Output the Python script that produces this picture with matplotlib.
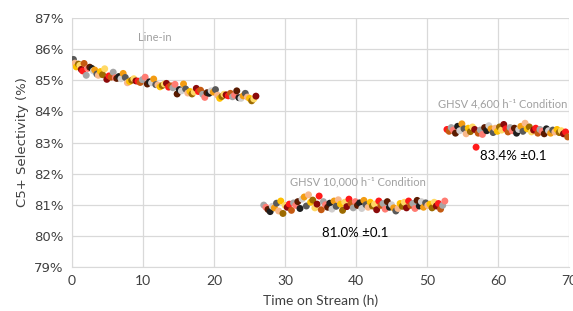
import matplotlib
matplotlib.use("Agg")
import matplotlib.pyplot as plt
from matplotlib.ticker import FuncFormatter

# --- Datos ---
t_linein = [0.0, 0.2, 0.4, 0.6, 0.9, 1.1, 1.3, 1.5, 1.7, 2.0, 2.2, 2.5, 2.8, 3.0, 3.2, 3.5,
            3.7, 4.0, 4.3, 4.6, 4.9, 5.2, 5.5, 5.8, 6.1, 6.3, 6.6, 6.9, 7.2, 7.5, 7.8, 8.1,
            8.4, 8.7, 9.0, 9.3, 9.6, 9.9, 10.3, 10.6, 10.9, 11.2, 11.5, 11.8, 12.1, 12.4,
            12.7, 13.0, 13.3, 13.6, 13.9, 14.2, 14.5, 14.8, 15.1, 15.4, 15.7, 16.0, 16.3,
            16.6, 16.9, 17.2, 17.5, 17.8, 18.1, 18.4, 18.7, 19.0, 19.3, 19.6, 19.9, 20.2,
            20.5, 20.8, 21.1, 21.4, 21.7, 22.0, 22.3, 22.6, 22.9, 23.2, 23.5, 23.8, 24.1,
            24.4, 24.7, 25.0, 25.3, 25.6, 25.9]
sel_linein = [85.62, 85.67, 85.55, 85.43, 85.52, 85.48, 85.35, 85.30, 85.54, 85.16, 85.38,
              85.42, 85.38, 85.30, 85.33, 85.20, 85.16, 85.28, 85.18, 85.37, 85.03, 85.14,
              85.10, 85.26, 85.08, 85.06, 85.12, 85.05, 85.22, 85.09, 84.92, 84.96, 85.00,
              85.05, 84.98, 84.97, 84.93, 85.02, 85.10, 84.88, 84.95, 84.92, 85.04, 84.86,
              84.85, 84.79, 84.83, 84.88, 84.90, 84.78, 84.82, 84.76, 84.87, 84.56, 84.70,
              84.66, 84.88, 84.72, 84.59, 84.64, 84.56, 84.62, 84.74, 84.64, 84.68, 84.55,
              84.45, 84.60, 84.58, 84.66, 84.62, 84.70, 84.52, 84.42, 84.48, 84.55, 84.53,
              84.50, 84.58, 84.47, 84.52, 84.66, 84.44, 84.42, 84.50, 84.58, 84.46, 84.42,
              84.34, 84.40, 84.49]

t_ghsv10000 = [27.0, 27.3, 27.6, 27.9, 28.2, 28.5, 28.8, 29.1, 29.4, 29.7, 30.0, 30.3, 30.6,
               30.9, 31.2, 31.5, 31.8, 32.1, 32.4, 32.7, 33.0, 33.3, 33.6, 33.9, 34.2, 34.5,
               34.8, 35.1, 35.4, 35.7, 36.0, 36.3, 36.6, 36.9, 37.2, 37.5, 37.8, 38.1, 38.4,
               38.7, 39.0, 39.3, 39.6, 39.9, 40.2, 40.5, 40.8, 41.1, 41.4, 41.7, 42.0, 42.3,
               42.6, 42.9, 43.2, 43.5, 43.8, 44.1, 44.4, 44.7, 45.0, 45.3, 45.6, 45.9, 46.2,
               46.5, 46.8, 47.1, 47.4, 47.7, 48.0, 48.3, 48.6, 48.9, 49.2, 49.5, 49.8, 50.1,
               50.4, 50.7, 51.0, 51.3, 51.6, 51.9, 52.2, 52.5]
sel_ghsv10000 = [80.99, 80.92, 80.85, 80.78, 80.95, 80.90, 81.05, 80.80, 81.12, 80.72, 80.98,
                 80.92, 81.02, 80.82, 81.06, 80.98, 81.10, 80.88, 81.18, 81.25, 80.96, 81.32,
                 81.08, 81.15, 80.90, 81.02, 81.28, 80.84, 81.10, 81.00, 80.92, 81.05, 80.86,
                 81.12, 80.95, 81.16, 81.02, 80.82, 81.08, 80.94, 81.18, 81.04, 80.90, 81.10,
                 80.98, 81.06, 80.88, 81.14, 81.00, 80.92, 81.08, 80.96, 81.02, 80.84, 81.12,
                 80.98, 81.04, 80.86, 81.10, 80.92, 81.00, 80.90, 80.80, 80.88, 81.04, 80.95,
                 81.08, 80.90, 81.12, 80.98, 81.04, 80.88, 81.14, 80.96, 81.10, 80.92, 81.06,
                 80.98, 81.02, 80.90, 81.08, 80.96, 81.04, 80.86, 80.98, 81.12]

t_ghsv4600 = [52.8, 53.1, 53.4, 53.7, 54.0, 54.3, 54.6, 54.9, 55.2, 55.5, 55.8, 56.1, 56.4,
              56.7, 56.9, 57.2, 57.5, 57.8, 58.1, 58.4, 58.7, 59.0, 59.3, 59.6, 59.9, 60.2,
              60.5, 60.8, 61.1, 61.4, 61.7, 62.0, 62.3, 62.6, 62.9, 63.2, 63.5, 63.8, 64.1,
              64.4, 64.7, 65.0, 65.3, 65.6, 65.9, 66.2, 66.5, 66.8, 67.1, 67.4, 67.7, 68.0,
              68.3, 68.6, 68.9, 69.2, 69.5, 69.8]
sel_ghsv4600 = [83.42, 83.36, 83.48, 83.40, 83.30, 83.52, 83.38, 83.60, 83.44, 83.28, 83.46,
                83.35, 83.50, 83.42, 82.85, 83.30, 83.40, 83.26, 83.48, 83.38, 83.54, 83.44,
                83.32, 83.46, 83.36, 83.50, 83.40, 83.58, 83.44, 83.34, 83.48, 83.38, 83.46,
                83.30, 83.42, 83.52, 83.36, 83.62, 83.44, 83.50, 83.34, 83.40, 83.46, 83.30,
                83.42, 83.36, 83.28, 83.44, 83.38, 83.30, 83.40, 83.34, 83.42, 83.32, 83.38,
                83.28, 83.34, 83.18]

# colores por punto (estilo Excel "variar colores")
PALETTE = ['#F39C12', '#FFC000', '#8B0A0A', '#A6A6A6', '#1E1E1E', '#595959', '#9C6A00',
           '#FF1A1A', '#FF7C73', '#D0CECE', '#F8B88B', '#FFD966', '#C55A11', '#5A1A00']

GRID = '#D9D9D9'
TICK_COLOR = '#404040'
FONTS = ['Lato', 'DejaVu Sans']


def point_colors(n, offset):
    return [PALETTE[(i * 5 + offset) % len(PALETTE)] for i in range(n)]


def pct(v, pos):
    return f"{v:.0f}%"


fig = plt.figure(figsize=(5.73, 3.11), dpi=100)
ax = fig.add_axes([0.1257, 0.1415, 0.8675, 0.8005])

segments = [(t_linein, sel_linein, 0), (t_ghsv10000, sel_ghsv10000, 3), (t_ghsv4600, sel_ghsv4600, 7)]
for t, s, off in segments:
    ax.scatter(t, s, s=25, c=point_colors(len(t), off), linewidths=0, zorder=3)

ax.set_xlim(0, 70)
ax.set_ylim(79, 87)
ax.set_xticks(range(0, 71, 10))
ax.set_yticks(range(79, 88))
ax.yaxis.set_major_formatter(FuncFormatter(pct))
ax.grid(True, color=GRID, linewidth=0.9, zorder=0)
ax.set_axisbelow(True)
for side in ['top', 'right']:
    ax.spines[side].set_visible(False)
for side in ['left', 'bottom']:
    ax.spines[side].set_color(GRID)
ax.tick_params(length=0, pad=6, colors=TICK_COLOR)
for lbl in ax.get_xticklabels():
    lbl.set_fontfamily('Lato')
    lbl.set_fontsize(10)
for lbl in ax.get_yticklabels():
    lbl.set_fontsize(9.5)

ax.set_xlabel('Time on Stream (h)', fontsize=10, family='Lato', color=TICK_COLOR, labelpad=5)
ax.set_ylabel('C5+ Selectivity (%)', fontsize=9.5, color=TICK_COLOR, labelpad=4)

note = dict(color='#A0A0A0', fontsize=8, family=FONTS, ha='center', va='center')
ax.text(11.7, 86.39, 'Line-in', **note)
ax.text(40.2, 81.73, 'GHSV 10,000 h⁻¹ Condition', **note)
ax.text(60.7, 84.23, 'GHSV 4,600 h⁻¹ Condition', **note)

val = dict(color='black', fontsize=9.5, family='Lato', ha='center', va='center')
ax.text(39.9, 80.09, '81.0% ±0.1', **val)
ax.text(62.1, 82.56, '83.4% ±0.1', **val)

fig.savefig('out.png', dpi=100)
plt.close(fig)
